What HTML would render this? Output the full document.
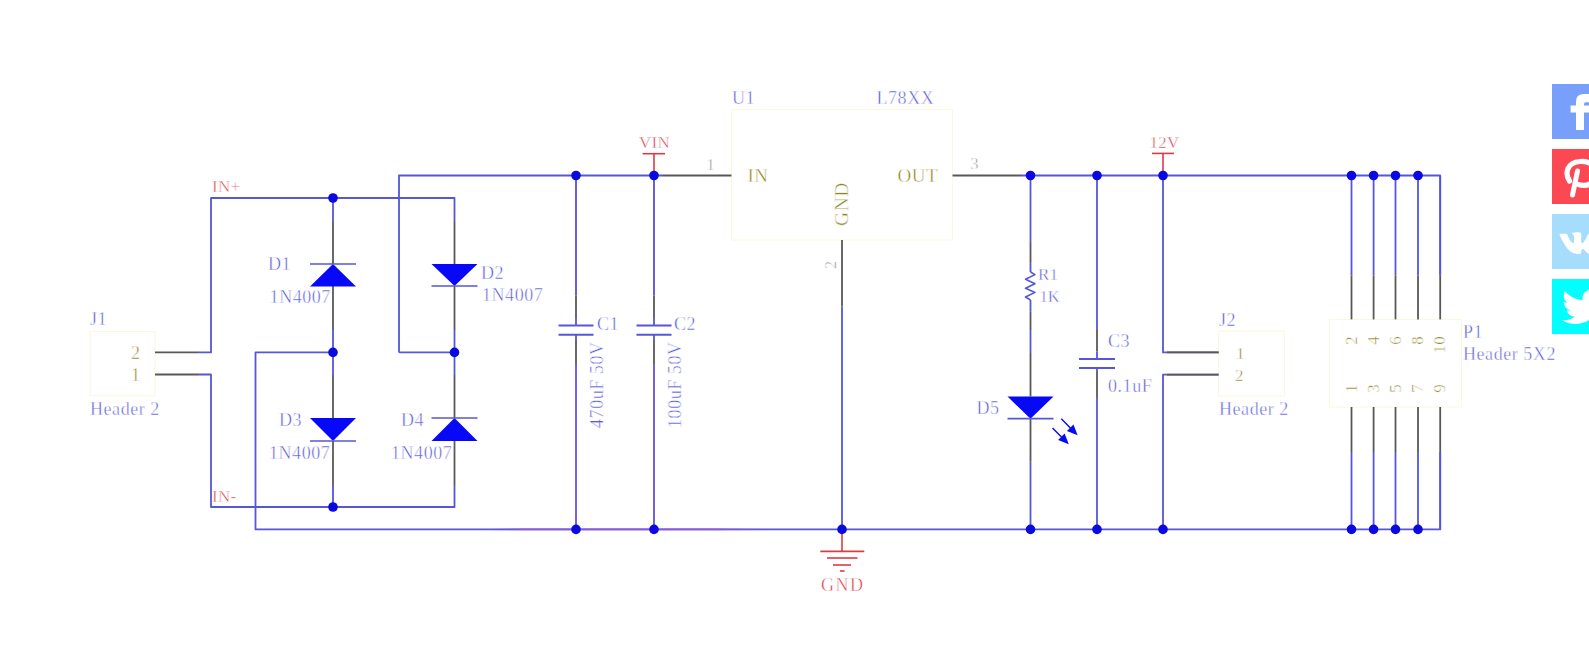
<!DOCTYPE html>
<html><head><meta charset="utf-8"><style>
html,body{margin:0;padding:0;background:#fff;width:1589px;height:658px;overflow:hidden;}
svg{position:absolute;left:0;top:0;}

text{font-family:"Liberation Serif",serif;stroke:#fff;stroke-width:0.45px;}
.sb{position:absolute;left:1552px;width:37px;height:55px;overflow:hidden;}
.sb svg{position:static;display:block;}
</style></head><body>
<svg id="main" width="1589" height="658" viewBox="0 0 1589 658">
<rect x="90" y="331.5" width="65" height="64.19999999999999" fill="none" stroke="#fcf8dc" stroke-width="1"/>
<rect x="731.5" y="109.5" width="221.0" height="130.5" fill="none" stroke="#fcf8dc" stroke-width="1"/>
<rect x="1218.6" y="331" width="65.80000000000018" height="65.19999999999999" fill="none" stroke="#fcf8dc" stroke-width="1"/>
<rect x="1329.6" y="319.4" width="131.9000000000001" height="87.60000000000002" fill="none" stroke="#fcf8dc" stroke-width="1"/>
<path d="M399,352.4 V175.5 H663" stroke="#5656d8" stroke-width="1.8" fill="none" stroke-linejoin="round"/>
<path d="M1021,175.5 H1440.2 V275.6" stroke="#5656d8" stroke-width="1.8" fill="none" stroke-linejoin="round"/>
<path d="M198,352.4 H211 V198 H454.5 V221" stroke="#5656d8" stroke-width="1.8" fill="none" stroke-linejoin="round"/>
<path d="M198,374.5 H211 V507 H454.5 V485" stroke="#5656d8" stroke-width="1.8" fill="none" stroke-linejoin="round"/>
<path d="M399,352.4 H454.5" stroke="#5656d8" stroke-width="1.8" fill="none" stroke-linejoin="round"/>
<path d="M333,352.4 H255.5 V529.4 H1440.2 V452" stroke="#5656d8" stroke-width="1.8" fill="none" stroke-linejoin="round"/>
<line x1="333" y1="198" x2="333" y2="221" stroke="#5656d8" stroke-width="1.8"/>
<line x1="333" y1="330" x2="333" y2="375" stroke="#5656d8" stroke-width="1.8"/>
<line x1="333" y1="485" x2="333" y2="507" stroke="#5656d8" stroke-width="1.8"/>
<line x1="454.5" y1="330" x2="454.5" y2="375" stroke="#5656d8" stroke-width="1.8"/>
<line x1="576" y1="175.5" x2="576" y2="295.5" stroke="#5a4cd8" stroke-width="1.8"/>
<line x1="576" y1="364" x2="576" y2="529.4" stroke="#6650d8" stroke-width="1.8"/>
<line x1="576" y1="295.5" x2="576" y2="318" stroke="#585858" stroke-width="1.8"/>
<line x1="576" y1="318" x2="576" y2="325.5" stroke="#5656d8" stroke-width="1.8"/>
<line x1="576" y1="334.7" x2="576" y2="340" stroke="#5656d8" stroke-width="1.8"/>
<line x1="576" y1="340" x2="576" y2="364" stroke="#585858" stroke-width="1.8"/>
<line x1="558.5" y1="325.5" x2="593.5" y2="325.5" stroke="#5656d8" stroke-width="1.9"/>
<line x1="558.5" y1="334.7" x2="593.5" y2="334.7" stroke="#5656d8" stroke-width="1.9"/>
<line x1="654" y1="175.5" x2="654" y2="295.5" stroke="#5a4cd8" stroke-width="1.8"/>
<line x1="654" y1="364" x2="654" y2="529.4" stroke="#6650d8" stroke-width="1.8"/>
<line x1="654" y1="295.5" x2="654" y2="318" stroke="#585858" stroke-width="1.8"/>
<line x1="654" y1="318" x2="654" y2="325.5" stroke="#5656d8" stroke-width="1.8"/>
<line x1="654" y1="334.7" x2="654" y2="340" stroke="#5656d8" stroke-width="1.8"/>
<line x1="654" y1="340" x2="654" y2="364" stroke="#585858" stroke-width="1.8"/>
<line x1="636.5" y1="325.5" x2="671.5" y2="325.5" stroke="#5656d8" stroke-width="1.9"/>
<line x1="636.5" y1="334.7" x2="671.5" y2="334.7" stroke="#5656d8" stroke-width="1.9"/>
<line x1="842" y1="240" x2="842" y2="306.6" stroke="#585858" stroke-width="1.8"/>
<line x1="842" y1="306.6" x2="842" y2="529.4" stroke="#5656d8" stroke-width="1.8"/>
<line x1="663" y1="175.5" x2="731.5" y2="175.5" stroke="#585858" stroke-width="1.8"/>
<line x1="952.5" y1="175.5" x2="1021" y2="175.5" stroke="#585858" stroke-width="1.8"/>
<line x1="1030.5" y1="175.5" x2="1030.5" y2="243" stroke="#5656d8" stroke-width="1.8"/>
<line x1="1030.5" y1="243" x2="1030.5" y2="262" stroke="#585858" stroke-width="1.8"/>
<line x1="1030.5" y1="262" x2="1030.5" y2="272" stroke="#5656d8" stroke-width="1.8"/>
<path d="M1030.5,272 L1035,274.6 L1025.5,279.2 L1035,283.7 L1025.5,288.3 L1035,292.4 L1025.5,297 L1030.5,300" stroke="#5656d8" stroke-width="1.6" fill="none" stroke-linejoin="round"/>
<line x1="1030.5" y1="300" x2="1030.5" y2="311.3" stroke="#5656d8" stroke-width="1.8"/>
<line x1="1030.5" y1="311.3" x2="1030.5" y2="330" stroke="#585858" stroke-width="1.8"/>
<line x1="1030.5" y1="330" x2="1030.5" y2="353" stroke="#5656d8" stroke-width="1.8"/>
<line x1="1030.5" y1="353" x2="1030.5" y2="396.5" stroke="#585858" stroke-width="1.8"/>
<line x1="1030.5" y1="418.7" x2="1030.5" y2="461.7" stroke="#585858" stroke-width="1.8"/>
<line x1="1030.5" y1="461.7" x2="1030.5" y2="529.4" stroke="#5656d8" stroke-width="1.8"/>
<line x1="1097" y1="175.5" x2="1097" y2="330" stroke="#5656d8" stroke-width="1.8"/>
<line x1="1097" y1="330" x2="1097" y2="351.5" stroke="#585858" stroke-width="1.8"/>
<line x1="1097" y1="351.5" x2="1097" y2="359" stroke="#5656d8" stroke-width="1.8"/>
<line x1="1097" y1="368" x2="1097" y2="372" stroke="#5656d8" stroke-width="1.8"/>
<line x1="1097" y1="372" x2="1097" y2="397" stroke="#585858" stroke-width="1.8"/>
<line x1="1097" y1="397" x2="1097" y2="529.4" stroke="#5656d8" stroke-width="1.8"/>
<line x1="1079" y1="359" x2="1115" y2="359" stroke="#5656d8" stroke-width="1.9"/>
<line x1="1079" y1="368" x2="1115" y2="368" stroke="#5656d8" stroke-width="1.9"/>
<path d="M1218.6,352.4 H1163 V175.5" stroke="#5656d8" stroke-width="1.8" fill="none" stroke-linejoin="round"/>
<path d="M1218.6,374.7 H1163 V529.4" stroke="#5656d8" stroke-width="1.8" fill="none" stroke-linejoin="round"/>
<line x1="1167" y1="352.4" x2="1218.6" y2="352.4" stroke="#585858" stroke-width="1.8"/>
<line x1="1167" y1="374.7" x2="1218.6" y2="374.7" stroke="#585858" stroke-width="1.8"/>
<line x1="155" y1="352.4" x2="198" y2="352.4" stroke="#585858" stroke-width="1.8"/>
<line x1="155" y1="374.5" x2="198" y2="374.5" stroke="#585858" stroke-width="1.8"/>
<line x1="1351.5" y1="175.5" x2="1351.5" y2="275.6" stroke="#5656d8" stroke-width="1.8"/>
<line x1="1351.5" y1="275.6" x2="1351.5" y2="319.4" stroke="#585858" stroke-width="1.8"/>
<line x1="1351.5" y1="407" x2="1351.5" y2="452" stroke="#585858" stroke-width="1.8"/>
<line x1="1351.5" y1="452" x2="1351.5" y2="529.4" stroke="#5656d8" stroke-width="1.8"/>
<line x1="1373.6" y1="175.5" x2="1373.6" y2="275.6" stroke="#5656d8" stroke-width="1.8"/>
<line x1="1373.6" y1="275.6" x2="1373.6" y2="319.4" stroke="#585858" stroke-width="1.8"/>
<line x1="1373.6" y1="407" x2="1373.6" y2="452" stroke="#585858" stroke-width="1.8"/>
<line x1="1373.6" y1="452" x2="1373.6" y2="529.4" stroke="#5656d8" stroke-width="1.8"/>
<line x1="1395.5" y1="175.5" x2="1395.5" y2="275.6" stroke="#5656d8" stroke-width="1.8"/>
<line x1="1395.5" y1="275.6" x2="1395.5" y2="319.4" stroke="#585858" stroke-width="1.8"/>
<line x1="1395.5" y1="407" x2="1395.5" y2="452" stroke="#585858" stroke-width="1.8"/>
<line x1="1395.5" y1="452" x2="1395.5" y2="529.4" stroke="#5656d8" stroke-width="1.8"/>
<line x1="1418" y1="175.5" x2="1418" y2="275.6" stroke="#5656d8" stroke-width="1.8"/>
<line x1="1418" y1="275.6" x2="1418" y2="319.4" stroke="#585858" stroke-width="1.8"/>
<line x1="1418" y1="407" x2="1418" y2="452" stroke="#585858" stroke-width="1.8"/>
<line x1="1418" y1="452" x2="1418" y2="529.4" stroke="#5656d8" stroke-width="1.8"/>
<line x1="1440.2" y1="175.5" x2="1440.2" y2="275.6" stroke="#5656d8" stroke-width="1.8"/>
<line x1="1440.2" y1="275.6" x2="1440.2" y2="319.4" stroke="#585858" stroke-width="1.8"/>
<line x1="1440.2" y1="407" x2="1440.2" y2="452" stroke="#585858" stroke-width="1.8"/>
<line x1="1440.2" y1="452" x2="1440.2" y2="529.4" stroke="#5656d8" stroke-width="1.8"/>
<line x1="333" y1="221" x2="333" y2="264" stroke="#585858" stroke-width="1.8"/>
<line x1="333" y1="286" x2="333" y2="330" stroke="#585858" stroke-width="1.8"/>
<line x1="333" y1="375" x2="333" y2="418" stroke="#585858" stroke-width="1.8"/>
<line x1="333" y1="441" x2="333" y2="485" stroke="#585858" stroke-width="1.8"/>
<line x1="454.5" y1="221" x2="454.5" y2="264" stroke="#585858" stroke-width="1.8"/>
<line x1="454.5" y1="286" x2="454.5" y2="330" stroke="#585858" stroke-width="1.8"/>
<line x1="454.5" y1="375" x2="454.5" y2="418" stroke="#585858" stroke-width="1.8"/>
<line x1="454.5" y1="441" x2="454.5" y2="485" stroke="#585858" stroke-width="1.8"/>
<polygon points="333,264 310,286.5 356,286.5" fill="#0808f8"/>
<line x1="310" y1="264" x2="356" y2="264" stroke="#5656d8" stroke-width="1.7"/>
<polygon points="431.5,264 477.5,264 454.5,286" fill="#0808f8"/>
<line x1="431.5" y1="286" x2="477.5" y2="286" stroke="#5656d8" stroke-width="1.7"/>
<polygon points="310,418 356,418 333,441" fill="#0808f8"/>
<line x1="310" y1="441" x2="356" y2="441" stroke="#5656d8" stroke-width="1.7"/>
<polygon points="454.5,418 431.5,441 477.5,441" fill="#0808f8"/>
<line x1="431.5" y1="418" x2="477.5" y2="418" stroke="#5656d8" stroke-width="1.7"/>
<polygon points="1007.5,396.5 1053.5,396.5 1030.5,418.7" fill="#0808f8"/>
<line x1="1007.5" y1="418.7" x2="1053.5" y2="418.7" stroke="#5656d8" stroke-width="1.7"/>
<line x1="1061.3" y1="418.8" x2="1074.6" y2="432.2" stroke="#0808f8" stroke-width="1.4"/>
<polygon points="1077.6,435.2 1066.9,431.0 1073.5,424.5" fill="#0808f8"/>
<line x1="1052.5" y1="428" x2="1065.8" y2="441.2" stroke="#0808f8" stroke-width="1.4"/>
<polygon points="1068.8,444.2 1058.1,440.1 1064.6,433.5" fill="#0808f8"/>
<line x1="654" y1="153.7" x2="654" y2="175.5" stroke="#d83c48" stroke-width="1.6"/>
<line x1="642.6" y1="153.7" x2="665" y2="153.7" stroke="#d83c48" stroke-width="1.6"/>
<line x1="1163" y1="153.4" x2="1163" y2="175.5" stroke="#d83c48" stroke-width="1.6"/>
<line x1="1152" y1="153.4" x2="1174" y2="153.4" stroke="#d83c48" stroke-width="1.6"/>
<line x1="842" y1="529.4" x2="842" y2="551.4" stroke="#d83c48" stroke-width="1.6"/>
<line x1="820.3" y1="551.4" x2="864.3" y2="551.4" stroke="#d83c48" stroke-width="1.6"/>
<line x1="827" y1="558" x2="857.5" y2="558" stroke="#d83c48" stroke-width="1.6"/>
<line x1="833" y1="565" x2="851" y2="565" stroke="#d83c48" stroke-width="1.6"/>
<line x1="840" y1="571" x2="844.6" y2="571" stroke="#d83c48" stroke-width="1.6"/>
<defs><linearGradient id="pg" gradientUnits="userSpaceOnUse" x1="490" y1="0" x2="770" y2="0"><stop offset="0" stop-color="#5656d8" stop-opacity="0"/><stop offset="0.12" stop-color="#8a58d8"/><stop offset="0.8" stop-color="#8a58d8"/><stop offset="1" stop-color="#8a58d8" stop-opacity="0"/></linearGradient></defs>
<line x1="490" y1="529.4" x2="770" y2="529.4" stroke="url(#pg)" stroke-width="1.8"/>
<circle cx="333" cy="198" r="4.8" fill="#0a0ae0"/>
<circle cx="333" cy="352.4" r="4.8" fill="#0a0ae0"/>
<circle cx="333" cy="507" r="4.8" fill="#0a0ae0"/>
<circle cx="454.5" cy="352.4" r="4.8" fill="#0a0ae0"/>
<circle cx="576" cy="175.5" r="4.8" fill="#0a0ae0"/>
<circle cx="654" cy="175.5" r="4.8" fill="#0a0ae0"/>
<circle cx="576" cy="529.4" r="4.8" fill="#0a0ae0"/>
<circle cx="654" cy="529.4" r="4.8" fill="#0a0ae0"/>
<circle cx="842" cy="529.4" r="4.8" fill="#0a0ae0"/>
<circle cx="1030.5" cy="175.5" r="4.8" fill="#0a0ae0"/>
<circle cx="1097" cy="175.5" r="4.8" fill="#0a0ae0"/>
<circle cx="1163" cy="175.5" r="4.8" fill="#0a0ae0"/>
<circle cx="1030.5" cy="529.4" r="4.8" fill="#0a0ae0"/>
<circle cx="1097" cy="529.4" r="4.8" fill="#0a0ae0"/>
<circle cx="1163" cy="529.4" r="4.8" fill="#0a0ae0"/>
<circle cx="1351.5" cy="175.5" r="4.8" fill="#0a0ae0"/>
<circle cx="1373.6" cy="175.5" r="4.8" fill="#0a0ae0"/>
<circle cx="1395.5" cy="175.5" r="4.8" fill="#0a0ae0"/>
<circle cx="1418" cy="175.5" r="4.8" fill="#0a0ae0"/>
<circle cx="1351.5" cy="529.4" r="4.8" fill="#0a0ae0"/>
<circle cx="1373.6" cy="529.4" r="4.8" fill="#0a0ae0"/>
<circle cx="1395.5" cy="529.4" r="4.8" fill="#0a0ae0"/>
<circle cx="1418" cy="529.4" r="4.8" fill="#0a0ae0"/>
<text x="212" y="192.4" fill="#d83c48" font-size="17" letter-spacing="0.3" text-anchor="start">IN+</text>
<text x="212" y="501.8" fill="#d83c48" font-size="17" letter-spacing="0.3" text-anchor="start">IN-</text>
<text x="654.5" y="148" fill="#d83c48" font-size="17" letter-spacing="0.3" text-anchor="middle">VIN</text>
<text x="1164.5" y="148.4" fill="#d83c48" font-size="17" letter-spacing="0.3" text-anchor="middle">12V</text>
<text x="842.8" y="590.6" fill="#d83c48" font-size="18" letter-spacing="1.5" text-anchor="middle">GND</text>
<text x="90" y="325" fill="#5a5ad8" font-size="18" letter-spacing="0.55" text-anchor="start">J1</text>
<text x="90" y="414.5" fill="#5a5ad8" font-size="18" letter-spacing="0.55" text-anchor="start">Header 2</text>
<text x="140" y="359" fill="#8c8620" font-size="18" letter-spacing="0" text-anchor="end">2</text>
<text x="140" y="381" fill="#8c8620" font-size="18" letter-spacing="0" text-anchor="end">1</text>
<text x="268" y="269.6" fill="#5a5ad8" font-size="18" letter-spacing="0.55" text-anchor="start">D1</text>
<text x="269.6" y="303" fill="#5a5ad8" font-size="18" letter-spacing="0.55" text-anchor="start">1N4007</text>
<text x="480.9" y="278.8" fill="#5a5ad8" font-size="18" letter-spacing="0.55" text-anchor="start">D2</text>
<text x="482" y="300.5" fill="#5a5ad8" font-size="18" letter-spacing="0.55" text-anchor="start">1N4007</text>
<text x="279" y="426" fill="#5a5ad8" font-size="18" letter-spacing="0.55" text-anchor="start">D3</text>
<text x="269" y="458.6" fill="#5a5ad8" font-size="18" letter-spacing="0.55" text-anchor="start">1N4007</text>
<text x="401" y="426" fill="#5a5ad8" font-size="18" letter-spacing="0.55" text-anchor="start">D4</text>
<text x="391" y="458.6" fill="#5a5ad8" font-size="18" letter-spacing="0.55" text-anchor="start">1N4007</text>
<text x="597" y="329.5" fill="#5a5ad8" font-size="18" letter-spacing="0.55" text-anchor="start">C1</text>
<text x="674" y="329.5" fill="#5a5ad8" font-size="18" letter-spacing="0.55" text-anchor="start">C2</text>
<text x="603" y="341.5" fill="#5a5ad8" font-size="18" letter-spacing="0.55" text-anchor="end" transform="rotate(-90 603 341.5)">470uF 50V</text>
<text x="680.5" y="341.5" fill="#5a5ad8" font-size="18" letter-spacing="0.55" text-anchor="end" transform="rotate(-90 680.5 341.5)">100uF 50V</text>
<text x="732" y="104" fill="#5a5ad8" font-size="18" letter-spacing="0.55" text-anchor="start">U1</text>
<text x="876.5" y="104" fill="#5a5ad8" font-size="18" letter-spacing="0.55" text-anchor="start">L78XX</text>
<text x="706.5" y="170.2" fill="#8a8a8a" font-size="16" letter-spacing="0" text-anchor="start">1</text>
<text x="747.5" y="181.8" fill="#8c8620" font-size="19" letter-spacing="0.3" text-anchor="start">IN</text>
<text x="897.5" y="181.8" fill="#8c8620" font-size="19" letter-spacing="0.5" text-anchor="start">OUT</text>
<text x="847.5" y="226" fill="#8c8620" font-size="19.5" letter-spacing="0.6" text-anchor="start" transform="rotate(-90 847.5 226)">GND</text>
<text x="970.5" y="168.7" fill="#8a8a8a" font-size="16" letter-spacing="0" text-anchor="start">3</text>
<text x="836.3" y="269" fill="#8a8a8a" font-size="16" letter-spacing="0" text-anchor="start" transform="rotate(-90 836.3 269)">2</text>
<text x="1038" y="279.5" fill="#5a5ad8" font-size="17" letter-spacing="0.2" text-anchor="start">R1</text>
<text x="1039.5" y="301.7" fill="#5a5ad8" font-size="16.5" letter-spacing="0" text-anchor="start">1K</text>
<text x="976.5" y="414" fill="#5a5ad8" font-size="18" letter-spacing="0.55" text-anchor="start">D5</text>
<text x="1108" y="347.4" fill="#5a5ad8" font-size="18" letter-spacing="0.55" text-anchor="start">C3</text>
<text x="1108" y="392.4" fill="#5a5ad8" font-size="18" letter-spacing="0.55" text-anchor="start">0.1uF</text>
<text x="1219" y="325.7" fill="#5a5ad8" font-size="18" letter-spacing="0.55" text-anchor="start">J2</text>
<text x="1236" y="359.3" fill="#8c8620" font-size="17" letter-spacing="0.55" text-anchor="start">1</text>
<text x="1235" y="381.4" fill="#8c8620" font-size="17" letter-spacing="0.55" text-anchor="start">2</text>
<text x="1219" y="414.6" fill="#5a5ad8" font-size="18" letter-spacing="0.55" text-anchor="start">Header 2</text>
<text x="1463" y="337.6" fill="#5a5ad8" font-size="18" letter-spacing="0.55" text-anchor="start">P1</text>
<text x="1463" y="359.8" fill="#5a5ad8" font-size="18" letter-spacing="0.55" text-anchor="start">Header 5X2</text>
<text x="1356.5" y="336" fill="#8c8620" font-size="17" letter-spacing="0.3" text-anchor="end" transform="rotate(-90 1356.5 336)">2</text>
<text x="1378.6" y="336" fill="#8c8620" font-size="17" letter-spacing="0.3" text-anchor="end" transform="rotate(-90 1378.6 336)">4</text>
<text x="1400.5" y="336" fill="#8c8620" font-size="17" letter-spacing="0.3" text-anchor="end" transform="rotate(-90 1400.5 336)">6</text>
<text x="1423" y="336" fill="#8c8620" font-size="17" letter-spacing="0.3" text-anchor="end" transform="rotate(-90 1423 336)">8</text>
<text x="1445.2" y="336" fill="#8c8620" font-size="17" letter-spacing="0.3" text-anchor="end" transform="rotate(-90 1445.2 336)">10</text>
<text x="1356.5" y="384" fill="#8c8620" font-size="17" letter-spacing="0.3" text-anchor="end" transform="rotate(-90 1356.5 384)">1</text>
<text x="1378.6" y="384" fill="#8c8620" font-size="17" letter-spacing="0.3" text-anchor="end" transform="rotate(-90 1378.6 384)">3</text>
<text x="1400.5" y="384" fill="#8c8620" font-size="17" letter-spacing="0.3" text-anchor="end" transform="rotate(-90 1400.5 384)">5</text>
<text x="1423" y="384" fill="#8c8620" font-size="17" letter-spacing="0.3" text-anchor="end" transform="rotate(-90 1423 384)">7</text>
<text x="1445.2" y="384" fill="#8c8620" font-size="17" letter-spacing="0.3" text-anchor="end" transform="rotate(-90 1445.2 384)">9</text>
</svg>
<div class="sb" style="top:84px;background:#78a0fa"><svg width="37" height="55" viewBox="1552 84 37 55"><path d="M1576,130 V102 C1576,96 1579,94 1585,94 H1592 V102.2 H1586 C1584.5,102.2 1584,103 1584,104.5 V130 Z" fill="#fff"/><rect x="1570.6" y="105.5" width="22" height="7" fill="#fff"/></svg></div>
<div class="sb" style="top:149px;background:#fc4852"><svg width="37" height="55" viewBox="1552 149 37 55"><path d="M1569.5,181 C1564.5,173 1567,162.5 1580,161.5 C1594,160.5 1598,171 1594,179 C1591,185 1585,186.5 1578,184.5" stroke="#fff" stroke-width="5.2" fill="none" stroke-linecap="round"/><path d="M1577.5,171 L1572.5,195" stroke="#fff" stroke-width="5" stroke-linecap="round"/></svg></div>
<div class="sb" style="top:214px;background:#a6dcfc"><svg width="37" height="55" viewBox="1552 214 37 55"><g transform="translate(1559.5,224.5) scale(1.55)"><path fill="#fff" d="M13.162 18.994c.609 0 .858-.406.851-.915-.031-1.917.714-2.949 2.059-1.604 1.488 1.488 1.796 2.519 3.603 2.519h3.2c.808 0 1.126-.26 1.126-.668 0-.863-1.421-2.386-2.625-3.504-1.686-1.565-1.765-1.602-.313-3.486 1.801-2.339 4.157-5.336 2.073-5.336h-3.981c-.772 0-.828.435-1.103 1.083-.995 2.347-2.886 5.387-3.604 4.922-.751-.485-.407-2.406-.35-5.261.015-.754.011-1.271-1.141-1.539-.629-.145-1.241-.205-1.809-.205-2.273 0-3.841.953-2.950 1.119 1.571.293 1.420 3.692 1.054 5.160-.638 2.556-3.036-2.024-4.035-4.305-.241-.548-.315-.974-1.175-.974h-3.255c-.492 0-.787.160-.787.516 0 .602 2.960 6.720 5.786 9.770 2.756 2.975 5.480 2.708 7.376 2.708z"/></g></svg></div>
<div class="sb" style="top:279px;background:#00ffff"><svg width="37" height="55" viewBox="1552 279 37 55"><g transform="translate(1562,285.5) scale(1.77)"><path fill="#fff" d="M23.953 4.57a10 10 0 01-2.825.775 4.958 4.958 0 002.163-2.723c-.951.555-2.005.959-3.127 1.184a4.920 4.920 0 00-8.384 4.482C7.690 8.095 4.067 6.130 1.640 3.162a4.822 4.822 0 00-.666 2.475c0 1.710.870 3.213 2.188 4.096a4.904 4.904 0 01-2.228-.616v.060a4.923 4.923 0 003.946 4.827 4.996 4.996 0 01-2.212.085 4.936 4.936 0 004.604 3.417 9.867 9.867 0 01-6.102 2.105c-.390 0-.779-.023-1.170-.067a13.995 13.995 0 007.557 2.209c9.053 0 13.998-7.496 13.998-13.985 0-.210 0-.420-.015-.630A9.935 9.935 0 0024 4.590z"/></g></svg></div>
</body></html>
